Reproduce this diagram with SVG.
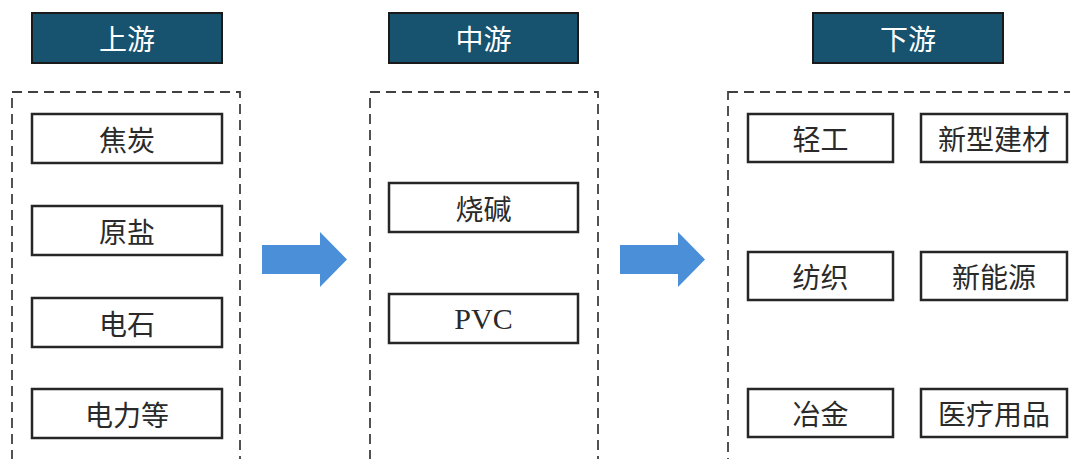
<svg xmlns="http://www.w3.org/2000/svg" width="1070" height="459" viewBox="0 0 1070 459">
<defs>
<style>
.hdr{fill:#17536f;stroke:#1a1a1a;stroke-width:2}
.hdrt{fill:#ffffff;font-family:"Noto Sans CJK SC","Liberation Sans",sans-serif;font-size:28px;text-anchor:middle;dominant-baseline:central}
.grp{fill:none;stroke:#404040;stroke-width:1.8;stroke-dasharray:10,6}
.box{fill:#ffffff;stroke:#262626;stroke-width:2.5}
.t{fill:#2a2a2a;font-family:"Noto Sans CJK SC","Liberation Serif",serif;font-size:28px;text-anchor:middle;dominant-baseline:central}
.tl{fill:#2a2a2a;font-family:"Liberation Serif",serif;font-size:30px;text-anchor:middle;dominant-baseline:central}
.arr{fill:#4a8fd8}
</style>
</defs>
<rect width="1070" height="459" fill="#ffffff"/>
<g id="header-up"><rect class="hdr" x="32" y="13" width="190" height="50"/><text class="hdrt" x="127" y="38">上游</text></g>
<g id="header-mid"><rect class="hdr" x="389" y="13" width="189" height="50"/><text class="hdrt" x="483.5" y="38">中游</text></g>
<g id="header-down"><rect class="hdr" x="813" y="13" width="190" height="50"/><text class="hdrt" x="908" y="38">下游</text></g>
<g id="group-up"><rect class="grp" x="12" y="92" width="228" height="380"/></g>
<g id="group-mid"><rect class="grp" x="370" y="92" width="228" height="380"/></g>
<g id="group-down"><rect class="grp" x="728" y="92" width="360" height="380"/></g>
<g id="n-jiaotan"><rect class="box" x="32" y="114" width="190" height="49"/><text class="t" x="127" y="138.5">焦炭</text></g>
<g id="n-yuanyan"><rect class="box" x="32" y="206" width="190" height="49"/><text class="t" x="127" y="230.5">原盐</text></g>
<g id="n-dianshi"><rect class="box" x="32" y="298" width="190" height="49"/><text class="t" x="127" y="322.5">电石</text></g>
<g id="n-dianli"><rect class="box" x="32" y="389" width="190" height="49"/><text class="t" x="127" y="413.5">电力等</text></g>
<g id="n-shaojian"><rect class="box" x="389" y="183" width="189" height="49"/><text class="t" x="483.5" y="207.5">烧碱</text></g>
<g id="n-pvc"><rect class="box" x="389" y="294" width="189" height="49"/><text class="tl" x="483.5" y="318.5">PVC</text></g>
<g id="n-qinggong"><rect class="box" x="748" y="114" width="145" height="48"/><text class="t" x="820.5" y="138">轻工</text></g>
<g id="n-jiancai"><rect class="box" x="921" y="114" width="146" height="48"/><text class="t" x="994" y="138">新型建材</text></g>
<g id="n-fangzhi"><rect class="box" x="748" y="252" width="145" height="48"/><text class="t" x="820.5" y="276">纺织</text></g>
<g id="n-nengyuan"><rect class="box" x="921" y="252" width="146" height="48"/><text class="t" x="994" y="276">新能源</text></g>
<g id="n-yejin"><rect class="box" x="748" y="389" width="145" height="48"/><text class="t" x="820.5" y="413">冶金</text></g>
<g id="n-yiliao"><rect class="box" x="921" y="389" width="146" height="48"/><text class="t" x="994" y="413">医疗用品</text></g>
<g id="connectors">
<polygon class="arr" points="262,245 320,245 320,232 347,259.5 320,287 320,274 262,274"/>
<polygon class="arr" points="620,245 678,245 678,232 705,259.5 678,287 678,274 620,274"/>
</g>
</svg>
